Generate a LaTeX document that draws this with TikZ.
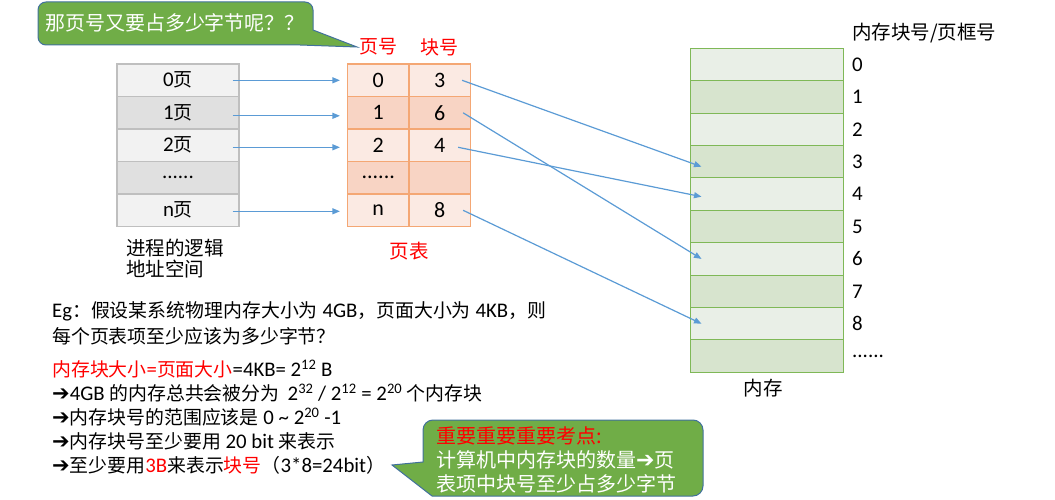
\documentclass[tikz,border=0pt]{standalone}
\usepackage{fontspec}
\setmainfont{Carlito}[Scale=1.1]
\newfontfamily\cjk{Noto Sans CJK SC}
\newfontfamily\dejavu{DejaVu Sans}
\newcommand\zh[1]{{\cjk #1}}
\newcommand\myfs[1]{\fontsize{#1}{#1}\selectfont}
\newcommand\arr{{\dejavu\fontsize{21}{21}\selectfont ➔}}
\usetikzlibrary{arrows.meta}
\definecolor{lA}{HTML}{F2F2F2}
\definecolor{lB}{HTML}{E0E0E0}
\definecolor{lline}{HTML}{BFBFBF}
\definecolor{pA}{HTML}{FBEAE3}
\definecolor{pB}{HTML}{F8D4C4}
\definecolor{pline}{HTML}{F4A774}
\definecolor{mA}{HTML}{E9EFE7}
\definecolor{mB}{HTML}{D7E4CE}
\definecolor{mline}{HTML}{7FB857}
\definecolor{cfill}{HTML}{70AD47}
\definecolor{cline}{HTML}{41719C}
\definecolor{arrblue}{HTML}{5B9BD5}
\tikzset{
  lrow/.style={draw=lline, line width=1.2pt, minimum width=122pt, minimum height=32.5pt, inner sep=0pt, font=\myfs{19}},
  prow/.style={draw=pline, line width=1.2pt, minimum width=61.5pt, minimum height=32.5pt, inner sep=0pt, font=\myfs{20}},
  mrow/.style={draw=mline, line width=1pt, minimum width=153pt, minimum height=32.4pt, inner sep=0pt},
  mlab/.style={anchor=west, inner sep=0pt, font=\myfs{19}},
  txt/.style={anchor=base west, inner sep=0pt, font=\myfs{18.9}},
  link/.style={draw=arrblue, line width=1.2pt, -{Triangle[length=7.5pt,width=6pt]}},
  callout/.style={fill=cfill, draw=cline, line width=1pt},
}
\begin{document}
\begin{tikzpicture}[x=1pt,y=-1pt]
\useasboundingbox (0,0) rectangle (1055,500);
% callout 1
\draw[callout] (38,24) [rounded corners=8pt] -- (38,2) -- (313,2) [sharp corners] -- (313,30) -- (357,47) -- (300,45) [rounded corners=8pt] -- (38,45) -- cycle;
\node[font=\myfs{20}, text=white, inner sep=0pt] (q1) at (175,23) {\zh{那页号又要占多少字节呢？？}};
% logical address space
\node[lrow, fill=lA] (L0) at (178,80.3) {0\zh{页}};
\node[lrow, fill=lB] (L1) at (178,112.8) {1\zh{页}};
\node[lrow, fill=lA] (L2) at (178,145.3) {2\zh{页}};
\node[lrow, fill=lB] (L3) at (178,177.8) {......};
\node[lrow, fill=lA] (L4) at (178,210.3) {n\zh{页}};
\node[anchor=west, align=left, inner sep=0pt, font=\cjk\fontsize{19.5}{21}\selectfont] (lab) at (126,258.8) {进程的逻辑\\地址空间};
% page table
\node[font=\cjk\myfs{19}, text=red, inner sep=0pt] (h1) at (378,47) {页号};
\node[font=\cjk\myfs{19}, text=red, inner sep=0pt] (h2) at (439,47) {块号};
\node[prow, fill=pA] (P0) at (378.25,80.3) {0};
\node[prow, fill=pA] (B0) at (439.75,80.3) {3};
\node[prow, fill=pB] (P1) at (378.25,112.8) {1};
\node[prow, fill=pB] (B1) at (439.75,112.8) {6};
\node[prow, fill=pA] (P2) at (378.25,145.3) {2};
\node[prow, fill=pA] (B2) at (439.75,145.3) {4};
\node[prow, fill=pB] (P3) at (378.25,177.8) {......};
\node[prow, fill=pB] (B3) at (439.75,177.8) {};
\node[prow, fill=pA] (P4) at (378.25,210.3) {n};
\node[prow, fill=pA] (B4) at (439.75,210.3) {8};
\node[font=\cjk\myfs{19.5}, text=red, inner sep=0pt] (pt) at (409,251) {页表};
% memory
\node[anchor=west, inner sep=0pt, font=\cjk\myfs{19.5}] (mt) at (852,33) {内存块号/页框号};
\node[mrow, fill=mA] (M0) at (766.5,64.5) {};
\node[mrow, fill=mB] (M1) at (766.5,96.9) {};
\node[mrow, fill=mA] (M2) at (766.5,129.3) {};
\node[mrow, fill=mB] (M3) at (766.5,161.7) {};
\node[mrow, fill=mA] (M4) at (766.5,194.1) {};
\node[mrow, fill=mB] (M5) at (766.5,226.5) {};
\node[mrow, fill=mA] (M6) at (766.5,258.9) {};
\node[mrow, fill=mB] (M7) at (766.5,291.3) {};
\node[mrow, fill=mA] (M8) at (766.5,323.7) {};
\node[mrow, fill=mB] (M9) at (766.5,356.1) {};
\node[mlab] (N0) at (852,64.5) {0};
\node[mlab] (N1) at (852,96.9) {1};
\node[mlab] (N2) at (852,129.3) {2};
\node[mlab] (N3) at (852,161.7) {3};
\node[mlab] (N4) at (852,194.1) {4};
\node[mlab] (N5) at (852,226.5) {5};
\node[mlab] (N6) at (852,258.9) {6};
\node[mlab] (N7) at (852,291.3) {7};
\node[mlab] (N8) at (852,323.7) {8};
\node[mlab] (N9) at (852,356.1) {......};
\node[font=\cjk\myfs{19.5}, inner sep=0pt] (mem) at (763,388) {内存};
% arrows
\draw[link] ([xshift=-7pt]L0.east) -- ([xshift=-7pt]P0.west);
\draw[link] ([xshift=-7pt,yshift=-3pt]L1.east) -- ([xshift=-7pt,yshift=-3pt]P1.west);
\draw[link] ([xshift=-7pt,yshift=-2pt]L2.east) -- ([xshift=-7pt,yshift=-2pt]P2.west);
\draw[link] ([xshift=-7pt,yshift=-1pt]L4.east) -- ([xshift=-7pt,yshift=-1pt]P4.west);
\draw[link] ([xshift=-9pt]B0.east) -- ([xshift=12pt,yshift=-5pt]M3.west);
\draw[link] ([xshift=-8pt]B1.east) -- ([xshift=12pt]M6.west);
\draw[link] ([xshift=-13pt,yshift=-2pt]B2.east) -- ([xshift=12pt,yshift=-2.6pt]M4.west);
\draw[link] ([xshift=-8pt]B4.east) -- ([xshift=12pt]M8.west);
% text block
\node[txt] (t1) at (52,317) {Eg\zh{：假设某系统物理内存大小为} 4GB\zh{，页面大小为} 4KB\zh{，则}};
\node[txt] (t2) at (52,343) {\zh{每个页表项至少应该为多少字节？}};
\node[txt] (t3) at (52,376) {\textcolor{red}{\zh{内存块大小}=\zh{页面大小}}=4KB= 2\textsuperscript{12} B};
\node[txt] (t4) at (52,400) {\arr4GB \zh{的内存总共会被分为}\, 2\textsuperscript{32} / 2\textsuperscript{12} = 2\textsuperscript{20} \zh{个内存块}};
\node[txt] (t5) at (52,424) {\arr\zh{内存块号的范围应该是} 0 \textasciitilde{} 2\textsuperscript{20} -1};
\node[txt] (t6) at (52,448) {\arr\zh{内存块号至少要用} 20 bit \zh{来表示}};
\node[txt] (t7) at (52,472) {\arr\zh{至少要用}\textcolor{red}{3B}\zh{来表示}\textcolor{red}{\zh{块号}}\zh{（}3*8=24bit\zh{）}};
% callout 2
\draw[callout] (563,420) [rounded corners=10pt] -- (703,420) -- (703,496) [sharp corners] -- (432,496) -- (392,465) -- (423,462) [rounded corners=10pt] -- (423,420) -- cycle;
\node[anchor=west, align=left, inner sep=0pt, text=white, font=\cjk\fontsize{20}{24}\selectfont] (q2) at (436,459.5) {\textcolor{red}{重要重要重要考点:}\\计算机中内存块的数量{\dejavu\fontsize{22}{22}\selectfont ➔}页\\表项中块号至少占多少字节};
\end{tikzpicture}
\end{document}
